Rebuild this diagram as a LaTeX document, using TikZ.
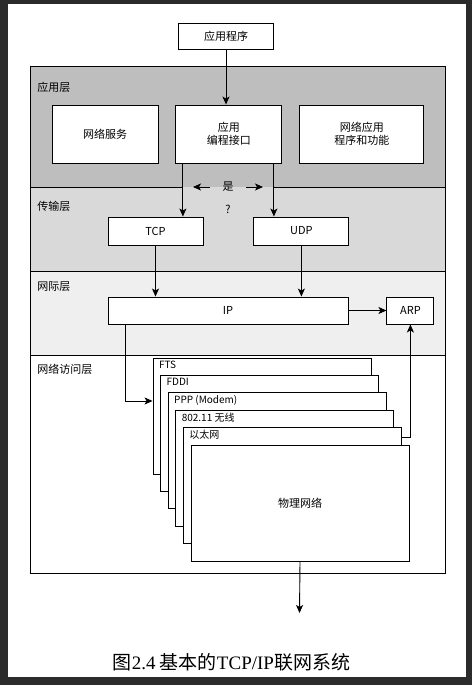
\documentclass[tikz,border=0pt]{standalone}
\usepackage{fontspec}
\setmainfont{Noto Sans CJK SC}
\newfontfamily\capfont{Liberation Serif}
\usetikzlibrary{arrows,arrows.meta}
\usetikzlibrary{positioning,shapes}

\definecolor{pagedark}{HTML}{2B2B2B}
\definecolor{appgray}{HTML}{BEBEBE}
\definecolor{transgray}{HTML}{D9D9D9}
\definecolor{netgray}{HTML}{EFEFEF}

\begin{document}
\begin{tikzpicture} [x=1pt,y=-1pt,>={Stealth[length=8pt,width=7pt,inset=2pt]},line width=0.9pt,
    box/.style={draw,fill=white,rectangle,inner sep=0pt,align=center,font=\fontsize{11}{13.5}\selectfont},
    card/.style={box,minimum width=218pt,minimum height=116pt},
    tag/.style={anchor=north west,inner sep=0pt,xshift=6pt,yshift=-3pt},
    layername/.style={anchor=west,inner sep=0pt,font=\fontsize{11}{13}\selectfont},
    arr/.style={->}]
  % page
  \fill[pagedark] (0,0) rectangle (472,685);
  \fill[white] (8,4) rectangle (466,677);

  % layers
  \fill[appgray] (30,66) rectangle (445,187);
  \fill[transgray] (30,187) rectangle (445,271);
  \fill[netgray] (30,271) rectangle (445,355);
  \draw (30,66) rectangle (445,573);
  \draw (30,187) -- (182,187) (273,187) -- (445,187);
  \draw (30,271) -- (445,271);
  \draw (30,355) -- (445,355);

  \node[layername] (l1) at (37,87) {应用层};
  \node[layername] (l2) at (37,206) {传输层};
  \node[layername] (l3) at (37,287) {网际层};
  \node[layername] (l4) at (37,369) {网络访问层};

  % boxes
  \node[box,minimum width=95pt,minimum height=26pt] (prog) at (226,36) {应用程序};
  \node[box,minimum width=106pt,minimum height=58pt] (svc) at (105,134) {网络服务};
  \node[box,minimum width=106pt,minimum height=58pt] (api) [right=17pt of svc] {应用\\编程接口};
  \node[box,minimum width=124pt,minimum height=58pt] (napp) [right=17pt of api] {网络应用\\程序和功能};
  \node[box,minimum width=95pt,minimum height=28pt] (tcp) at (155.5,231) {TCP};
  \node[box,minimum width=95pt,minimum height=28pt] (udp) [right=50pt of tcp] {UDP};
  \node[box,minimum width=240pt,minimum height=27pt] (ip) at (228,310.5) {IP};
  \node[box,minimum width=47pt,minimum height=27pt] (arp) [right=38pt of ip] {ARP};

  % physical stack
  \node[card,label={[tag]north west:FTS}] (fts) at (262,416) {};
  \node[card,label={[tag]north west:FDDI}] (fddi) at ([shift={(7.6,17.4)}]fts.center) {};
  \node[card,label={[tag]north west:PPP (Modem)}] (ppp) at ([shift={(7.6,17.4)}]fddi.center) {};
  \node[card,label={[tag]north west:802.11 无线}] (wlan) at ([shift={(7.6,17.4)}]ppp.center) {};
  \node[card,label={[tag]north west:以太网}] (eth) at ([shift={(7.6,17.4)}]wlan.center) {};
  \node[card] (phys) at ([shift={(7.6,17.4)}]eth.center) {物理网络};

  % connectors
  \coordinate (tl) at ([xshift=-46pt]api.south);
  \coordinate (tr) at ([xshift=45pt]api.south);
  \node[inner sep=0pt,minimum width=36pt,font=\fontsize{11}{13}\selectfont] (yes) at (228,187) {是};
  \node[inner sep=0pt,font=\fontsize{11}{13}\selectfont] (q) at (228,209) {?};
  \coordinate (yl) at (193,187);
  \coordinate (yr) at (263,187);
  \coordinate (wire) at (299.5,613);
  \coordinate (ipdown) at ([xshift=18pt]ip.south west);

  \draw[arr] (prog.south) -- (prog.south |- api.north);
  \draw[arr] (tl) -- (tl |- tcp.north);
  \draw[arr] (tr) -- (tr |- udp.north);
  \draw[arr] (yes.west) -- (yl);
  \draw[arr] (yes.east) -- (yr);
  \draw[arr] (tcp.south) -- (tcp.south |- ip.north);
  \draw[arr] (udp.south) -- (udp.south |- ip.north);
  \draw[arr] (ip) -- (arp);
  \draw[arr] (ipdown) |- ([yshift=15pt]fts.west);
  \draw[arr] ([yshift=-10pt]eth.north east) -| (arp.south);
  \draw[arr] (phys.south) -- (wire);

  % caption
  \node[inner sep=0pt,font=\fontsize{19}{22}\selectfont] (cap) at (231.5,662) {图{\capfont 2.4} 基本的{\capfont TCP/IP}联网系统};
\end{tikzpicture}
\end{document}
